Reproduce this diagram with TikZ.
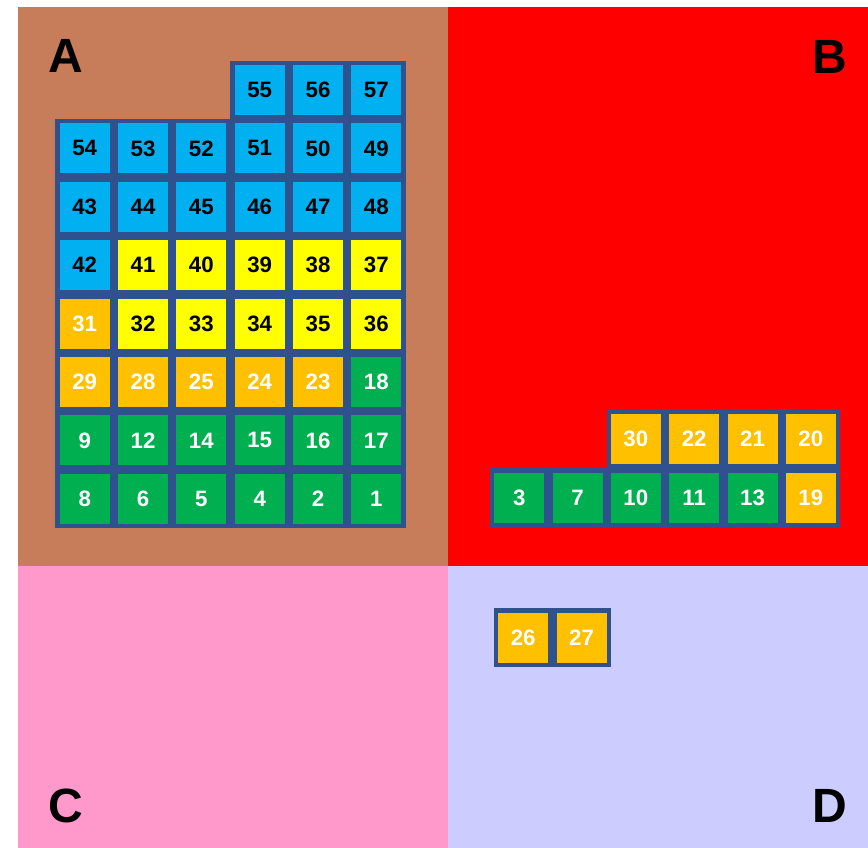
\documentclass[tikz,border=0pt]{standalone}
\usepackage{fontspec}
\setmainfont{Liberation Sans}
\usetikzlibrary{positioning}
\definecolor{bgA}{HTML}{C87D5A}
\definecolor{bgB}{HTML}{FF0000}
\definecolor{bgC}{HTML}{FF99CC}
\definecolor{bgD}{HTML}{CCCCFF}
\definecolor{cellblue}{HTML}{2F528F}
\definecolor{cblue}{HTML}{00B0F0}
\definecolor{cyellow}{HTML}{FFFF00}
\definecolor{corange}{HTML}{FFC000}
\definecolor{cgreen}{HTML}{00B050}
\tikzset{
  cell/.style={draw=cellblue, line width=0.126cm, minimum size=1.626cm, inner sep=0pt,
    font=\bfseries\fontsize{19}{19}\selectfont},
  bluecell/.style={cell, fill=cblue, text=black},
  yellowcell/.style={cell, fill=cyellow, text=black},
  orangecell/.style={cell, fill=corange, text=white},
  greencell/.style={cell, fill=cgreen, text=white},
  quad/.style={font=\bfseries\fontsize{41}{41}\selectfont, inner sep=0pt}
}
\begin{document}
\begin{tikzpicture}[x=0.03cm, y=-0.03cm]
\useasboundingbox (0,0) rectangle (868,848);
\fill[bgA] (18,7) rectangle (448,566);
\fill[bgB] (448,7) rectangle (868,566);
\fill[bgC] (18,566) rectangle (448,848);
\fill[bgD] (448,566) rectangle (868,848);
\node[quad] (qA) at (66,56) {A};
\node[quad] (qB) at (830,57) {B};
\node[quad] (qC) at (66,806) {C};
\node[quad] (qD) at (830,806) {D};
% quadrant A
\foreach \n/\c/\r/\s in {55/3/0/blue, 56/4/0/blue, 57/5/0/blue,
    54/0/1/blue, 53/1/1/blue, 52/2/1/blue, 51/3/1/blue, 50/4/1/blue, 49/5/1/blue,
    43/0/2/blue, 44/1/2/blue, 45/2/2/blue, 46/3/2/blue, 47/4/2/blue, 48/5/2/blue,
    42/0/3/blue, 41/1/3/yellow, 40/2/3/yellow, 39/3/3/yellow, 38/4/3/yellow, 37/5/3/yellow,
    31/0/4/orange, 32/1/4/yellow, 33/2/4/yellow, 34/3/4/yellow, 35/4/4/yellow, 36/5/4/yellow,
    29/0/5/orange, 28/1/5/orange, 25/2/5/orange, 24/3/5/orange, 23/4/5/orange, 18/5/5/green,
    9/0/6/green, 12/1/6/green, 14/2/6/green, 15/3/6/green, 16/4/6/green, 17/5/6/green,
    8/0/7/green, 6/1/7/green, 5/2/7/green, 4/3/7/green, 2/4/7/green, 1/5/7/green}
  \node[\s cell] (c\n) at ({84.7+58.33*\c},{90+58.4*\r}) {\n};
% quadrant B
\foreach \n/\c/\r/\s in {30/2/0/orange, 22/3/0/orange, 21/4/0/orange, 20/5/0/orange,
    3/0/1/green, 7/1/1/green, 10/2/1/green, 11/3/1/green, 13/4/1/green, 19/5/1/orange}
  \node[\s cell] (c\n) at ({519.2+58.33*\c},{439.2+58.4*\r}) {\n};
% quadrant D
\node[orangecell] (c26) at (523.2,637.5) {26};
\node[orangecell, right=0pt of c26] (c27) {27};
\end{tikzpicture}
\end{document}
